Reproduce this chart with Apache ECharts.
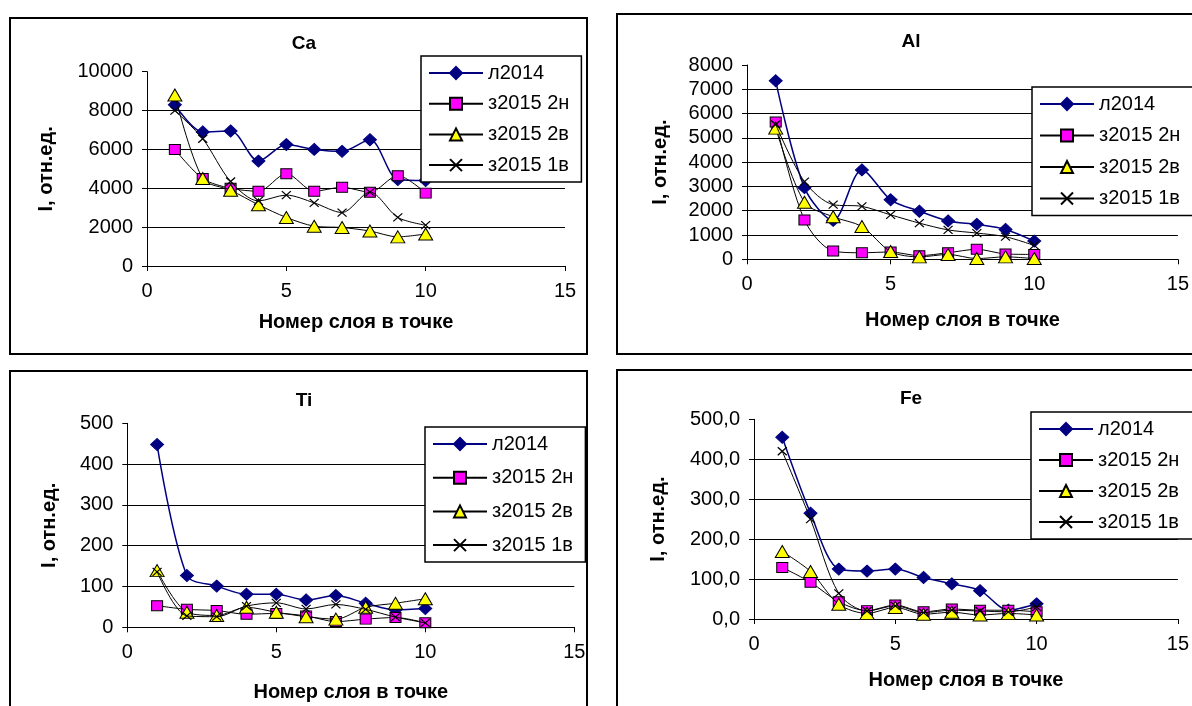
<!DOCTYPE html>
<html>
<head>
<meta charset="utf-8">
<script src="https://cdn.jsdelivr.net/npm/echarts@6/dist/echarts.min.js"></script>
<style>
  html, body { margin: 0; padding: 0; background: #fff; }
  #chart { width: 1192px; height: 706px; }
</style>
</head>
<body>
<div id="chart"></div>
<script>
// Layer numbers (x values) shared by every panel
const layers = [1, 2, 3, 4, 5, 6, 7, 8, 9, 10];
const seriesNames = ['л2014', 'з2015 2н', 'з2015 2в', 'з2015 1в'];
const panelTitles = ['Ca', 'Al', 'Ti', 'Fe'];
const xAxisTitle = 'Номер слоя в точке';
const yAxisTitle = 'I, отн.ед.';

// Ca
const caL2014 = [8300, 6900, 6950, 5400, 6250, 6000, 5900, 6500, 4450, 4400];
const ca2n    = [6000, 4500, 4000, 3850, 4750, 3850, 4050, 3800, 4650, 3750];
const ca2v    = [8800, 4500, 3900, 3150, 2500, 2050, 1980, 1800, 1500, 1650];
const ca1v    = [8000, 6550, 4350, 3350, 3650, 3250, 2750, 3800, 2500, 2100];

// Al
const alL2014 = [7350, 2950, 1600, 3680, 2450, 1980, 1580, 1440, 1230, 750];
const al2n    = [5650, 1620, 340, 270, 300, 150, 270, 410, 220, 200];
const al2v    = [5400, 2350, 1750, 1350, 320, 100, 200, 30, 100, 30];
const al1v    = [5550, 3200, 2250, 2180, 1830, 1490, 1210, 1080, 930, 570];

// Ti
const tiL2014 = [448, 127, 101, 81, 81, 67, 78, 59, 43, 46];
const ti2n    = [53, 44, 41, 32, 34, 28, 14, 20, 24, 11];
const ti2v    = [139, 37, 29, 49, 37, 26, 20, 49, 59, 70];
const ti1v    = [136, 28, 26, 52, 60, 45, 56, 44, 25, 11];

// Fe
const feL2014 = [455, 265, 125, 120, 125, 104, 88, 71, 22, 38];
const fe2n    = [129, 92, 43, 21, 35, 18, 25, 22, 22, 18];
const fe2v    = [169, 119, 37, 14, 29, 12, 17, 10, 14, 10];
const fe1v    = [420, 250, 64, 20, 33, 16, 22, 20, 18, 30];

// Axis ranges: [min, max, interval]
const xRange  = [0, 15, 5];
const caRange = [0, 10000, 2000];
const alRange = [0, 8000, 1000];
const tiRange = [0, 500, 100];
const feRange = [0, 500, 100];

const FONT = '"Liberation Sans", Arial, sans-serif';

const panels = [
  { data: [caL2014, ca2n, ca2v, ca1v], range: caRange, fmt: v => String(v),
    frame: [10, 18, 577, 336],
    grid: { left: 147, top: 71.7, width: 418, height: 194.3 },
    title: [299, 40], legend: { left: 421, top: 56, gap: 8.7, padRight: 12 },
    xNameGap: 46, yNameGap: 91 },
  { data: [alL2014, al2n, al2v, al1v], range: alRange, fmt: v => String(v),
    frame: [617, 14, 600, 340],
    grid: { left: 747, top: 65, width: 436, height: 194.3 },
    title: [906, 38], legend: { left: 1032, top: 87, gap: 9.5, padRight: 30 },
    xNameGap: 51, yNameGap: 77 },
  { data: [tiL2014, ti2n, ti2v, ti1v], range: tiRange, fmt: v => String(v),
    frame: [10, 371, 577, 345],
    grid: { left: 127.3, top: 423.3, width: 447, height: 204 },
    title: [299, 397], legend: { left: 425, top: 427, gap: 11.7, padRight: 12 },
    xNameGap: 55, yNameGap: 68 },
  { data: [feL2014, fe2n, fe2v, fe1v], range: feRange,
    fmt: v => v.toFixed(1).replace('.', ','),
    frame: [617, 370, 600, 345],
    grid: { left: 754, top: 419.3, width: 429, height: 199.7 },
    title: [906, 395], legend: { left: 1031, top: 412, gap: 9, padRight: 30 },
    xNameGap: 51, yNameGap: 86 }
];

// Marker look for each data set, in the order of seriesNames
const seriesStyles = [
  { symbol: 'diamond', symbolSize: [13, 12], line: '#000080', lineWidth: 1.5,
    item: { color: '#000080', borderColor: '#000080', borderWidth: 1 } },
  { symbol: 'rect', symbolSize: [11, 10], line: '#000000', lineWidth: 1,
    item: { color: '#FF00FF', borderColor: '#000000', borderWidth: 1 } },
  { symbol: 'triangle', symbolSize: [14, 12], line: '#000000', lineWidth: 1,
    item: { color: '#FFFF00', borderColor: '#000000', borderWidth: 1 } },
  { symbol: 'path://M0,0L10,10M10,0L0,10', symbolSize: [9, 8], line: '#000000', lineWidth: 1,
    item: { color: 'none', borderColor: '#000000', borderWidth: 1.2 } }
];

const option = {
  backgroundColor: '#ffffff',
  animation: false,
  textStyle: { fontFamily: FONT, color: '#000' },
  title: [], legend: [], grid: [], xAxis: [], yAxis: [], series: [],
  graphic: []
};

panels.forEach((p, i) => {
  option.graphic.push({
    type: 'rect', z: 0, silent: true,
    shape: { x: p.frame[0], y: p.frame[1], width: p.frame[2], height: p.frame[3] },
    style: { fill: '#fff', stroke: '#000', lineWidth: 2 }
  });
  option.title.push({
    text: panelTitles[i], left: p.title[0], top: p.title[1] - 11, textAlign: 'center',
    textStyle: { fontFamily: FONT, fontWeight: 'bold', fontSize: 19, color: '#000' }
  });
  option.grid.push({
    left: p.grid.left, top: p.grid.top, width: p.grid.width, height: p.grid.height,
    show: true, borderColor: '#808080', borderWidth: 1, backgroundColor: 'transparent'
  });
  option.xAxis.push({
    type: 'value', gridIndex: i, min: xRange[0], max: xRange[1], interval: xRange[2],
    name: xAxisTitle, nameLocation: 'middle', nameGap: p.xNameGap,
    nameTextStyle: { fontFamily: FONT, fontWeight: 'bold', fontSize: 20, color: '#000' },
    axisLine: { show: true, onZero: false, lineStyle: { color: '#000', width: 1 } },
    axisTick: { show: true, length: 5, lineStyle: { color: '#000', width: 1 } },
    axisLabel: { fontFamily: FONT, fontSize: 20, color: '#000', margin: 15 },
    splitLine: { show: false }
  });
  option.yAxis.push({
    type: 'value', gridIndex: i, min: p.range[0], max: p.range[1], interval: p.range[2],
    name: yAxisTitle, nameLocation: 'middle', nameRotate: 90, nameGap: p.yNameGap,
    nameTextStyle: { fontFamily: FONT, fontWeight: 'bold', fontSize: 20, color: '#000' },
    axisLine: { show: true, onZero: false, lineStyle: { color: '#000', width: 1 } },
    axisTick: { show: true, length: 5, lineStyle: { color: '#000', width: 1 } },
    axisLabel: { fontFamily: FONT, fontSize: 20, color: '#000', margin: 14, formatter: p.fmt },
    splitLine: { show: true, showMaxLine: false, showMinLine: false,
      lineStyle: { color: '#000', width: 1 } }
  });
  p.data.forEach((vals, k) => {
    const st = seriesStyles[k];
    option.series.push({
      type: 'line', name: seriesNames[k], xAxisIndex: i, yAxisIndex: i,
      data: layers.map((x, j) => [x, vals[j]]),
      smooth: 0.3, symbol: st.symbol, symbolSize: st.symbolSize, showAllSymbol: true,
      lineStyle: { color: st.line, width: st.lineWidth },
      itemStyle: st.item, z: 2 + k, clip: false
    });
  });
  option.legend.push({
    orient: 'vertical', left: p.legend.left, top: p.legend.top,
    padding: [6, p.legend.padRight, 6, 7], itemGap: p.legend.gap, itemWidth: 54, itemHeight: 15,
    borderColor: '#000', borderWidth: 1.5, backgroundColor: '#fff', z: 10,
    selectedMode: false,
    textStyle: { fontFamily: FONT, fontSize: 20, color: '#000', lineHeight: 22 },
    data: seriesNames
  });
});

const chart = echarts.init(document.getElementById('chart'), null, { renderer: 'canvas' });
chart.setOption(option);
</script>
</body>
</html>
